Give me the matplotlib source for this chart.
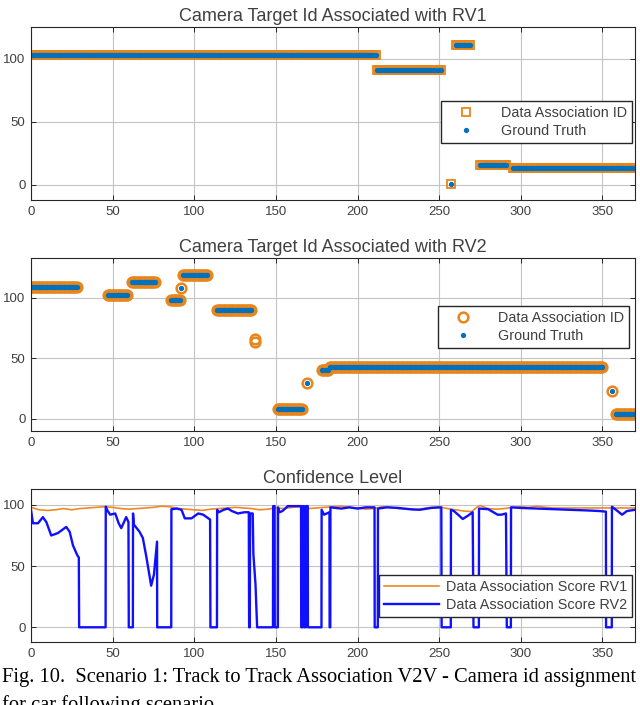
"""Camera target id association (RV1 / RV2) and confidence level, scenario 1."""
import matplotlib
matplotlib.use("Agg")
import matplotlib.pyplot as plt
import numpy as np

# ---- RV1: runs of constant camera id (start step, end step, id) ----------------
rv1_start = [0, 212, 257, 260, 275, 295]
rv1_end = [211, 251, 257, 269, 291, 370]
rv1_id = [103, 91, 1, 111, 16, 13]

# ---- RV2: data association runs; ground truth is the same minus step 137 ------
rv2_start = [0, 47, 62, 86, 92, 93, 114, 137, 137, 151, 169, 178, 183, 356, 358]
rv2_end = [28, 59, 76, 91, 92, 108, 135, 137, 137, 166, 169, 182, 350, 356, 370]
rv2_id = [109, 102, 113, 98, 108, 119, 90, 63.5, 66, 8, 30, 40, 43, 23, 4]
rv2_gt_start = [0, 47, 62, 86, 92, 93, 114, 151, 169, 178, 183, 356, 358]
rv2_gt_end = [28, 59, 76, 91, 92, 108, 135, 166, 169, 182, 350, 356, 370]
rv2_gt_id = [109, 102, 113, 98, 108, 119, 90, 8, 30, 40, 43, 23, 4]

# ---- confidence level: breakpoints (step, score) -------------------------------
score_rv1_t = [0, 5, 10, 15, 20, 25, 30, 35, 40, 45, 50, 55, 60, 65, 70, 75, 80, 85,
               90, 95, 100, 105, 110, 115, 120, 125, 130, 135, 140, 145, 150, 155,
               160, 165, 170, 175, 180, 185, 190, 195, 200, 205, 210, 215, 220, 225,
               230, 235, 240, 245, 250, 255, 260, 265, 270, 273, 275, 280, 285, 290,
               295, 300, 305, 310, 315, 320, 330, 340, 350, 360, 370]
score_rv1 = [98, 96, 95.5, 96, 97, 96, 97, 97.5, 98, 98.5, 98, 97, 96.5, 97, 97.5,
             98, 99, 98.5, 97, 96.5, 96, 95.5, 96.5, 97, 97.5, 98, 97.5, 97, 96,
             96.5, 97.5, 97, 98, 98.5, 97, 97.5, 98, 98.5, 99, 98, 97.5, 96.5, 97,
             98.5, 98, 97, 96.5, 96, 97, 98, 98.5, 97, 96, 95, 94.5, 98, 99.5, 97,
             96.5, 97, 98, 98.5, 98, 99, 98, 97.5, 97.5, 97.5, 97.5, 97.5, 97.5]

score_rv2_t = [0, 1.2, 4.3, 7.3, 9.4, 12.4, 16.5, 21.6, 23.7, 25.7, 28.3, 29.3, 29.5,
               45.7, 45.8, 47, 48.5, 51.6, 53.7, 55.3, 58.3, 59.7, 59.9, 62.4, 62.5,
               63, 66.5, 68.5, 70.6, 73.6, 75.3, 77.2, 77.3, 85.9, 86, 89.4, 92.2,
               94.2, 98.3, 102.4, 105.5, 109.7, 109.9, 113.9, 114, 115, 118, 120.6,
               123, 126.7, 130.8, 133.4, 133.6, 134, 134.2, 135.8, 136.2, 137.5,
               138.5, 148.2, 148.3, 149.2, 149.3, 151.2, 151.3, 152.2, 154, 157.3,
               165.4, 165.5, 166.4, 166.5, 167.3, 167.4, 168.4, 168.5, 169.5, 169.6,
               177.9, 178, 179.5, 182.8, 182.9, 183.3, 183.4, 190, 195, 200, 205,
               210.4, 210.5, 212.4, 212.5, 218, 225, 232, 238, 245, 251.3, 251.5,
               257.1, 257.2, 259, 262.4, 264.4, 267.4, 270.5, 271, 274.3, 274.4, 280,
               285.8, 288, 290.9, 291.4, 293.9, 294, 300, 310, 320, 330, 340, 348,
               352.1, 352.2, 355.7, 355.8, 359.2, 362, 365, 370]
score_rv2 = [96, 85, 85, 90, 86, 75, 77, 82, 78, 67, 59, 57, 0,
             0, 98.5, 95, 92, 93, 85, 81, 90, 86, 0, 0, 93,
             84, 78, 73, 58, 34, 43, 70, 0, 0, 96.5, 97, 96,
             89, 89, 93, 92, 88, 0, 0, 96, 94, 96, 97,
             95, 93, 94, 94, 0, 0, 93, 93, 60, 35,
             0, 0, 99, 99, 0, 0, 98, 94, 95, 99,
             99, 0, 0, 99, 99, 0, 0, 99, 99, 0,
             0, 96, 92, 94, 0, 0, 98, 97, 98, 97, 98,
             98, 0, 0, 97, 98, 97.5, 96.5, 96, 97.5, 98, 0,
             0, 96, 95, 91, 88.5, 91, 94, 0, 0, 97, 96.5,
             92, 92, 93, 0, 0, 98, 97.5, 97, 96.5, 96, 95.5, 95,
             94.5, 0, 0, 98.5, 95, 92, 95, 96]


def expand(starts, ends, ids):
    t, v = [], []
    for s, e, i in zip(starts, ends, ids):
        steps = np.arange(s, e + 1)
        t.extend(steps)
        v.extend([i] * len(steps))
    return np.array(t), np.array(v)


ORANGE = "#E8861C"
BLUE_PT = "#0072BD"
TXT = "#404040"
EDGE = "#262626"


def style(ax, ylim):
    ax.set_xlim(0, 370)
    ax.set_ylim(*ylim)
    ax.set_xticks([0, 50, 100, 150, 200, 250, 300, 350])
    ax.set_yticks([0, 50, 100])
    ax.grid(True, color="#c4c4c4", lw=0.8)
    ax.set_axisbelow(True)
    ax.tick_params(direction="in", top=True, right=True, length=3.5, width=0.7,
                   colors=EDGE, labelcolor=TXT, labelsize=9.5, pad=4)
    for s in ax.spines.values():
        s.set_color(EDGE)
        s.set_linewidth(0.8)


def legend(ax, anchor, hl, htp):
    ax.legend(loc="upper right", bbox_to_anchor=anchor, borderaxespad=0,
              fontsize=10.4, fancybox=False, edgecolor=EDGE, framealpha=1,
              handlelength=hl, handletextpad=htp, labelspacing=0.3,
              labelcolor=TXT, borderpad=0.35)


plt.rcParams["font.family"] = ["Liberation Sans", "DejaVu Sans"]

fig = plt.figure(figsize=(6.4, 7.05), dpi=100)
ax1 = fig.add_axes([0.0484, 0.7163, 0.944, 0.2454])
ax2 = fig.add_axes([0.0484, 0.3887, 0.944, 0.2454])
ax3 = fig.add_axes([0.0484, 0.0894, 0.944, 0.2170])

# ---- panel 1: RV1 ----
t, v = expand(rv1_start, rv1_end, rv1_id)
ax1.plot(t, v, ls="none", marker="s", ms=5.6, mfc="none", mec=ORANGE, mew=1.3,
         label="Data Association ID")
ax1.plot(t, v, ls="none", marker="o", ms=3.8, mfc=BLUE_PT, mec="none",
         label="Ground Truth")
style(ax1, (-12, 125))
ax1.set_title("Camera Target Id Associated with RV1", color=TXT, fontsize=13, pad=4)
legend(ax1, (0.995, 0.574), 2.8, 1.0)

# ---- panel 2: RV2 ----
t, v = expand(rv2_start, rv2_end, rv2_id)
tg, vg = expand(rv2_gt_start, rv2_gt_end, rv2_gt_id)
ax2.plot(t, v, ls="none", marker="o", ms=7, mfc="none", mec=ORANGE, mew=1.8,
         label="Data Association ID")
ax2.plot(tg, vg, ls="none", marker="o", ms=3.8, mfc=BLUE_PT, mec="none",
         label="Ground Truth")
style(ax2, (-10, 133))
ax2.set_title("Camera Target Id Associated with RV2", color=TXT, fontsize=13, pad=4)
legend(ax2, (0.990, 0.7225), 2.8, 1.0)

# ---- panel 3: confidence ----
ax3.plot(score_rv1_t, score_rv1, color="#EE8A22", lw=1.2, label="Data Association Score RV1")
ax3.plot(score_rv2_t, score_rv2, color="#1010FF", lw=1.7, label="Data Association Score RV2")
style(ax3, (-12, 113))
ax3.set_title("Confidence Level", color=TXT, fontsize=13, pad=4)
legend(ax3, (0.995, 0.438), 3.8, 0.45)

fig.text(0.003, 1 - 668 / 705,
         "Fig. 10.  Scenario 1: Track to Track Association V2V - Camera id assignment\n"
         "for car following scenario",
         family=["Liberation Serif", "DejaVu Serif"], fontsize=14.8, va="top",
         ha="left", color="black", linespacing=1.55)

fig.savefig("out.png", dpi=100)
